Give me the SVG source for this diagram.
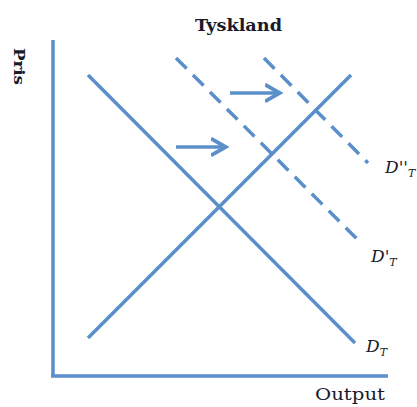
<svg xmlns="http://www.w3.org/2000/svg" width="417" height="407" viewBox="0 0 417 407">
<style>
.ln{stroke:#5a8fca;stroke-width:3.5;fill:none;stroke-linecap:butt}
.ds{stroke-dasharray:15,9}
.t{font-family:"DejaVu Serif","Liberation Serif",serif;fill:#1a1a2a}
.lab{font-family:"DejaVu Serif","Liberation Serif",serif;font-style:italic;fill:#1a1a2a;font-size:17px}
</style>
<defs>
<marker id="ah" markerWidth="6" markerHeight="6" refX="4" refY="3" orient="auto" markerUnits="strokeWidth">
<path d="M0,0.6 L4.2,3 L0,5.4" fill="none" stroke="#5a8fca" stroke-width="1.1"/>
</marker>
</defs>
<g id="axes">
<line class="ln" x1="53" y1="40" x2="53" y2="376"/>
<line class="ln" x1="51" y1="376" x2="388" y2="376"/>
</g>
<g id="connectors">
<line id="DT" class="ln" x1="88" y1="75" x2="355" y2="343"/>
<line id="S" class="ln" x1="88" y1="338" x2="351" y2="75"/>
<line id="DpT" class="ln ds" x1="176" y1="58" x2="361" y2="243"/>
<line id="DppT" class="ln ds" x1="264" y1="58" x2="368" y2="163"/>
<line id="arrow1" class="ln" x1="176" y1="147" x2="225" y2="147" marker-end="url(#ah)"/>
<line id="arrow2" class="ln" x1="230" y1="93" x2="279" y2="93" marker-end="url(#ah)"/>
</g>
<g id="title"><text class="t" x="195" y="31" font-size="16" font-weight="bold" textLength="87" lengthAdjust="spacingAndGlyphs">Tyskland</text></g>
<g id="ylabel"><text class="t" transform="translate(14,48) rotate(90)" font-size="15" font-weight="bold" textLength="37" lengthAdjust="spacingAndGlyphs">Pris</text></g>
<g id="xlabel"><text class="t" x="315" y="400" font-size="16" textLength="70" lengthAdjust="spacingAndGlyphs">Output</text></g>
<g id="lDT"><text class="lab" x="366" y="352">D<tspan font-size="11" dy="4">T</tspan></text></g>
<g id="lDpT"><text class="lab" x="371" y="262">D'<tspan font-size="11" dy="4">T</tspan></text></g>
<g id="lDppT"><text class="lab" x="385" y="173">D''<tspan font-size="11" dy="4">T</tspan></text></g>
</svg>
